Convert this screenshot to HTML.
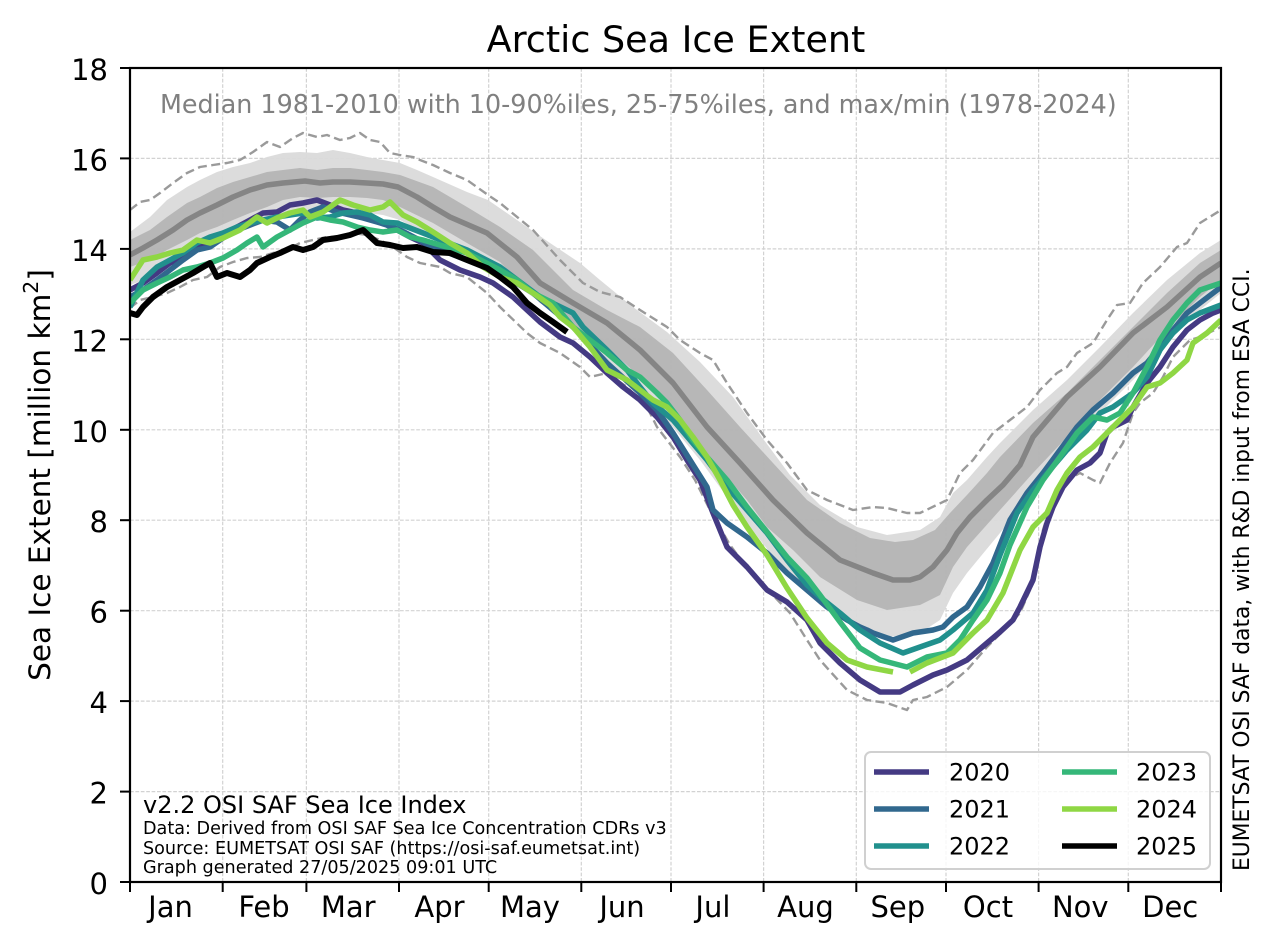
<!DOCTYPE html>
<html>
<head>
<meta charset="utf-8">
<style>
html,body{margin:0;padding:0;background:#fff;}
svg{display:block;}
text{font-family:"DejaVu Sans","Liberation Sans",sans-serif;}
</style>
</head>
<body>
<svg width="1274" height="943" viewBox="0 0 1274 943" xmlns="http://www.w3.org/2000/svg">
<defs>
<clipPath id="ax"><rect x="130" y="68" width="1091" height="814"/></clipPath>
</defs>
<rect x="0" y="0" width="1274" height="943" fill="#ffffff"/>

<!-- grid -->
<g stroke="#d2d2d2" stroke-width="1.2" stroke-dasharray="3.7 1.7" fill="none">
<line x1="130" y1="791.6" x2="1221" y2="791.6"/>
<line x1="130" y1="701.1" x2="1221" y2="701.1"/>
<line x1="130" y1="610.7" x2="1221" y2="610.7"/>
<line x1="130" y1="520.2" x2="1221" y2="520.2"/>
<line x1="130" y1="429.8" x2="1221" y2="429.8"/>
<line x1="130" y1="339.3" x2="1221" y2="339.3"/>
<line x1="130" y1="248.9" x2="1221" y2="248.9"/>
<line x1="130" y1="158.4" x2="1221" y2="158.4"/>
<line x1="222.7" y1="68" x2="222.7" y2="882"/>
<line x1="306.4" y1="68" x2="306.4" y2="882"/>
<line x1="399" y1="68" x2="399" y2="882"/>
<line x1="488.7" y1="68" x2="488.7" y2="882"/>
<line x1="581.3" y1="68" x2="581.3" y2="882"/>
<line x1="671" y1="68" x2="671" y2="882"/>
<line x1="763.6" y1="68" x2="763.6" y2="882"/>
<line x1="856.3" y1="68" x2="856.3" y2="882"/>
<line x1="946" y1="68" x2="946" y2="882"/>
<line x1="1038.6" y1="68" x2="1038.6" y2="882"/>
<line x1="1128.3" y1="68" x2="1128.3" y2="882"/>
</g>

<g clip-path="url(#ax)">
<!-- 10-90 band -->
<polygon fill="#dadada" fill-opacity="0.95" points="130,232 150,217 167,200 187,187 200,180 217,172 233,167 250,163 267,157 283,153 300,152 317,153 333,150 350,153 367,157 383,160 400,163 417,170 433,177 467,192 488,200 517,220 550,243 580,263 600,280 633,307 667,332 700,362 733,397 764,440 790,475 820,505 857,527 887,535 920,530 940,517 953,493 967,480 987,457 1000,443 1033,410 1067,380 1100,347 1133,313 1167,280 1200,253 1221,240 1221,293 1200,310 1167,343 1133,380 1100,413 1067,453 1033,493 1000,533 967,573 953,593 940,620 920,633 887,637 857,627 820,605 790,577 764,545 733,505 700,460 667,420 633,385 600,355 567,320 533,297 500,275 467,257 433,238 400,220 383,215 367,213 350,212 333,212 317,212 300,212 283,215 267,222 250,228 233,235 217,243 200,250 187,257 167,268 150,278 130,285"/>
<!-- 25-75 band -->
<polygon fill="#b4b4b4" fill-opacity="0.95" points="130,240 150,230 167,217 187,203 200,197 217,188 233,182 250,177 267,172 283,170 300,168 317,170 333,168 350,168 367,170 383,172 400,175 433,187 467,207 500,227 533,250 573,290 607,310 640,327 673,353 707,390 740,427 773,463 807,500 840,523 870,538 895,542 913,540 935,530 950,513 967,495 987,473 1000,457 1033,423 1067,393 1100,360 1133,327 1167,293 1200,263 1221,250 1221,280 1200,297 1167,330 1133,367 1100,400 1067,437 1033,473 1000,510 967,547 953,567 940,595 920,605 887,610 857,600 820,577 793,550 767,527 747,500 727,477 707,453 690,433 667,403 640,377 607,347 573,325 540,303 500,262 467,243 433,223 400,207 383,200 367,198 350,197 333,197 317,198 300,197 283,200 267,207 250,213 233,220 217,227 200,233 187,240 167,250 150,260 130,267"/>

<!-- max / min dashed -->
<g fill="none" stroke="#9a9a9a" stroke-width="2.4" stroke-dasharray="9 4.5" stroke-linejoin="round">
<polyline points="130,210 140,202 150,200 160,193 173,183 187,173 200,167 213,165 227,163 240,160 253,152 267,142 280,147 293,138 303,133 317,137 327,135 340,140 350,138 360,133 370,140 380,142 390,153 400,155 413,157 420,160 433,165 450,173 467,180 488,195 500,203 533,230 560,260 583,283 600,292 620,297 640,310 667,327 680,340 700,353 713,360 727,383 747,413 767,440 787,463 807,490 827,500 853,510 873,507 887,508 907,513 920,513 947,500 960,473 973,460 993,433 1010,420 1027,407 1040,390 1057,373 1067,367 1077,353 1093,343 1107,320 1117,305 1130,303 1143,283 1160,267 1177,247 1187,243 1200,223 1221,210"/>
<polyline points="130,308 140,300 153,297 167,293 180,287 193,280 207,277 220,267 233,262 247,258 260,257 273,253 287,250 300,243 313,240 327,237 340,237 353,233 367,235 380,240 393,247 407,257 420,263 440,267 450,273 467,277 487,293 500,307 527,333 540,343 560,353 580,367 590,377 607,373 627,387 647,407 657,427 667,440 680,457 695,480 710,510 730,545 750,572 770,592 790,613 807,640 820,660 847,690 867,700 887,703 907,710 913,700 927,697 947,687 967,670 987,647 1007,627 1020,613 1030,590 1037,560 1043,530 1050,507 1067,480 1080,473 1093,480 1100,483 1110,463 1123,443 1133,413 1140,403 1153,393 1163,377 1173,357 1190,340 1200,337 1221,327"/>
</g>

<!-- median -->
<polyline fill="none" stroke="#858585" stroke-width="5.5" stroke-linejoin="round" points="130,255 143,248 157,240 173,230 187,220 200,213 217,205 233,197 250,190 267,185 283,183 305,181 320,183 333,182 350,182 367,183 383,184 398,187 417,197 433,207 450,217 487,233 517,257 540,283 573,303 607,323 640,350 673,383 707,427 740,463 773,500 807,533 840,560 873,573 893,580 910,580 920,577 933,567 947,550 957,533 970,517 987,500 1003,485 1020,465 1033,437 1067,397 1100,367 1133,333 1167,307 1200,277 1221,263"/>

<g fill="none" stroke-width="5.5" stroke-linejoin="round" stroke-linecap="butt">
<!-- 2020 -->
<polyline stroke="#443a83" points="130,290 143,283 157,273 170,263 183,257 197,247 210,242 223,235 237,227 250,220 263,213 277,212 290,205 303,203 317,200 330,205 343,210 357,213 370,217 383,223 397,230 410,237 423,243 440,260 460,270 480,277 493,283 513,297 527,310 540,322 560,337 573,343 590,357 607,373 623,387 640,400 657,417 673,437 687,460 700,480 713,513 727,547 747,567 767,590 787,602 807,620 820,643 840,663 860,680 880,692 900,692 913,685 933,675 947,670 967,660 987,643 1000,632 1013,620 1020,607 1033,580 1040,547 1047,523 1053,507 1063,487 1077,470 1090,463 1100,453 1107,433 1113,427 1127,420 1133,407 1147,383 1160,367 1173,347 1187,330 1200,320 1213,313 1221,310"/>
<!-- 2021 -->
<polyline stroke="#31688e" points="130,297 143,290 157,280 170,270 183,260 197,250 210,247 223,238 237,230 250,225 263,220 277,222 290,230 300,220 310,212 323,207 337,212 350,215 363,218 377,222 390,226 400,230 433,247 467,260 500,273 533,293 573,327 607,363 640,393 657,410 673,433 690,460 707,487 713,510 727,523 747,537 767,553 787,573 807,590 827,607 847,620 860,627 867,630 873,633 893,640 913,633 933,630 943,627 953,617 967,607 980,587 993,563 1010,520 1027,493 1043,473 1060,450 1077,427 1093,410 1113,393 1133,373 1147,363 1160,347 1173,330 1187,313 1200,303 1221,287"/>
<!-- 2022 -->
<polyline stroke="#21908d" points="130,307 143,280 157,267 170,260 183,253 197,243 210,237 223,233 237,227 250,223 263,220 277,217 290,215 303,213 317,218 330,217 343,213 357,212 370,215 383,222 397,223 410,228 423,233 433,237 467,250 500,267 540,297 573,313 583,327 607,350 627,370 640,387 653,403 673,420 690,440 707,460 727,487 747,510 767,533 787,560 807,585 820,597 840,613 860,630 880,643 903,653 920,647 940,640 953,630 973,613 987,590 1000,555 1017,513 1033,490 1050,470 1067,450 1087,430 1100,413 1113,407 1133,393 1147,377 1160,350 1173,333 1187,320 1200,313 1221,305"/>
<!-- 2023 -->
<polyline stroke="#35b779" points="130,303 143,290 157,283 170,277 183,270 197,267 210,263 223,258 237,250 247,243 257,237 263,247 277,237 290,230 303,223 317,217 330,220 343,222 357,227 370,230 383,232 397,230 410,237 423,240 433,243 467,253 500,270 517,280 533,293 553,303 573,327 590,340 607,353 627,370 640,377 657,393 667,403 680,420 693,440 707,457 727,480 747,507 767,532 787,557 807,578 820,595 840,622 860,648 880,660 907,667 927,657 947,653 960,640 973,620 987,600 1000,573 1010,545 1027,507 1043,480 1060,457 1077,433 1093,417 1107,420 1120,413 1133,393 1147,367 1160,340 1173,320 1187,303 1200,290 1221,283"/>
<!-- 2024 -->
<polyline stroke="#8fd744" points="130,280 143,260 157,257 170,253 183,250 197,240 210,243 223,238 240,230 257,217 267,223 277,218 290,213 303,210 310,217 323,212 340,200 353,205 370,210 383,207 390,202 403,215 417,222 433,232 450,243 467,253 483,267 500,277 517,283 533,293 550,305 560,317 573,327 590,347 607,370 627,380 640,390 653,400 667,407 680,420 693,437 707,457 720,480 733,505 747,527 767,555 787,588 807,618 827,643 847,660 867,667 893,672"/>
<polyline stroke="#8fd744" points="910,672 927,663 953,653 973,633 987,620 1003,593 1020,550 1033,527 1047,513 1057,490 1067,473 1080,457 1093,447 1107,433 1120,420 1133,407 1147,387 1160,383 1173,373 1187,360 1193,343 1207,333 1221,320"/>
<!-- 2025 -->
<polyline stroke="#000000" stroke-width="6" points="130,313 137,315 143,307 153,297 167,287 180,280 193,273 203,267 210,263 217,277 227,273 240,277 250,270 257,263 270,257 280,253 293,247 303,250 313,247 323,240 337,238 350,235 363,230 377,243 390,245 403,248 417,247 433,252 450,253 467,260 487,268 500,277 513,287 527,303 540,313 553,322 567,332"/>
</g>
</g>

<!-- median text -->
<text x="160" y="113" font-size="25.4" fill="#808080">Median 1981-2010 with 10-90%iles, 25-75%iles, and max/min (1978-2024)</text>

<!-- footnotes -->
<text x="143" y="813" font-size="24" fill="#000">v2.2 OSI SAF Sea Ice Index</text>
<text x="143" y="834" font-size="17.6" fill="#000">Data: Derived from OSI SAF Sea Ice Concentration CDRs v3</text>
<text x="143" y="854" font-size="17.6" fill="#000">Source: EUMETSAT OSI SAF (https://osi-saf.eumetsat.int)</text>
<text x="143" y="873" font-size="17.6" fill="#000">Graph generated 27/05/2025 09:01 UTC</text>

<!-- legend -->
<rect x="865" y="752" width="345" height="117" rx="6" ry="6" fill="#ffffff" fill-opacity="0.8" stroke="#d0d0d0" stroke-width="2"/>
<g stroke-width="5.5">
<line x1="874" y1="772" x2="929" y2="772" stroke="#443a83"/>
<line x1="874" y1="809" x2="929" y2="809" stroke="#31688e"/>
<line x1="874" y1="846" x2="929" y2="846" stroke="#21908d"/>
<line x1="1062" y1="772" x2="1117" y2="772" stroke="#35b779"/>
<line x1="1062" y1="809" x2="1117" y2="809" stroke="#8fd744"/>
<line x1="1062" y1="846" x2="1117" y2="846" stroke="#000000"/>
</g>
<g font-size="24" fill="#000">
<text x="949" y="780.7">2020</text>
<text x="949" y="817.7">2021</text>
<text x="949" y="854.7">2022</text>
<text x="1136" y="780.7">2023</text>
<text x="1136" y="817.7">2024</text>
<text x="1136" y="854.7">2025</text>
</g>

<!-- axes frame -->
<rect x="130" y="68" width="1091" height="814" fill="none" stroke="#000" stroke-width="2.2"/>

<!-- y ticks -->
<g stroke="#000" stroke-width="2">
<line x1="120" y1="882" x2="130" y2="882"/>
<line x1="120" y1="791.6" x2="130" y2="791.6"/>
<line x1="120" y1="701.1" x2="130" y2="701.1"/>
<line x1="120" y1="610.7" x2="130" y2="610.7"/>
<line x1="120" y1="520.2" x2="130" y2="520.2"/>
<line x1="120" y1="429.8" x2="130" y2="429.8"/>
<line x1="120" y1="339.3" x2="130" y2="339.3"/>
<line x1="120" y1="248.9" x2="130" y2="248.9"/>
<line x1="120" y1="158.4" x2="130" y2="158.4"/>
<line x1="120" y1="68" x2="130" y2="68"/>
</g>
<g font-size="29" fill="#000" text-anchor="end">
<text x="108" y="894">0</text>
<text x="108" y="803.6">2</text>
<text x="108" y="713.1">4</text>
<text x="108" y="622.7">6</text>
<text x="108" y="532.2">8</text>
<text x="108" y="441.8">10</text>
<text x="108" y="351.3">12</text>
<text x="108" y="260.9">14</text>
<text x="108" y="170.4">16</text>
<text x="108" y="80">18</text>
</g>

<!-- x ticks -->
<g stroke="#000" stroke-width="2">
<line x1="130" y1="882" x2="130" y2="892"/>
<line x1="222.7" y1="882" x2="222.7" y2="892"/>
<line x1="306.4" y1="882" x2="306.4" y2="892"/>
<line x1="399" y1="882" x2="399" y2="892"/>
<line x1="488.7" y1="882" x2="488.7" y2="892"/>
<line x1="581.3" y1="882" x2="581.3" y2="892"/>
<line x1="671" y1="882" x2="671" y2="892"/>
<line x1="763.6" y1="882" x2="763.6" y2="892"/>
<line x1="856.3" y1="882" x2="856.3" y2="892"/>
<line x1="946" y1="882" x2="946" y2="892"/>
<line x1="1038.6" y1="882" x2="1038.6" y2="892"/>
<line x1="1128.3" y1="882" x2="1128.3" y2="892"/>
<line x1="1221" y1="882" x2="1221" y2="892"/>
</g>
<g font-size="29" fill="#000" text-anchor="middle">
<text x="170.5" y="917">Jan</text>
<text x="264" y="917">Feb</text>
<text x="348.2" y="917">Mar</text>
<text x="439.5" y="917">Apr</text>
<text x="530" y="917">May</text>
<text x="622" y="917">Jun</text>
<text x="712.9" y="917">Jul</text>
<text x="805.5" y="917">Aug</text>
<text x="897.8" y="917">Sep</text>
<text x="988" y="917">Oct</text>
<text x="1080.3" y="917">Nov</text>
<text x="1170.2" y="917">Dec</text>
</g>

<!-- title -->
<text x="676" y="52" font-size="36.5" fill="#000" text-anchor="middle">Arctic Sea Ice Extent</text>

<!-- y label -->
<text transform="translate(50,475) rotate(-90)" font-size="29.5" fill="#000" text-anchor="middle">Sea Ice Extent [million km<tspan font-size="20.5" dy="-12">2</tspan><tspan dy="12">]</tspan></text>

<!-- right side note -->
<text transform="translate(1249,871) rotate(-90)" font-size="21.8" fill="#000">EUMETSAT OSI SAF data, with R&amp;D input from ESA CCI.</text>
</svg>
</body>
</html>
